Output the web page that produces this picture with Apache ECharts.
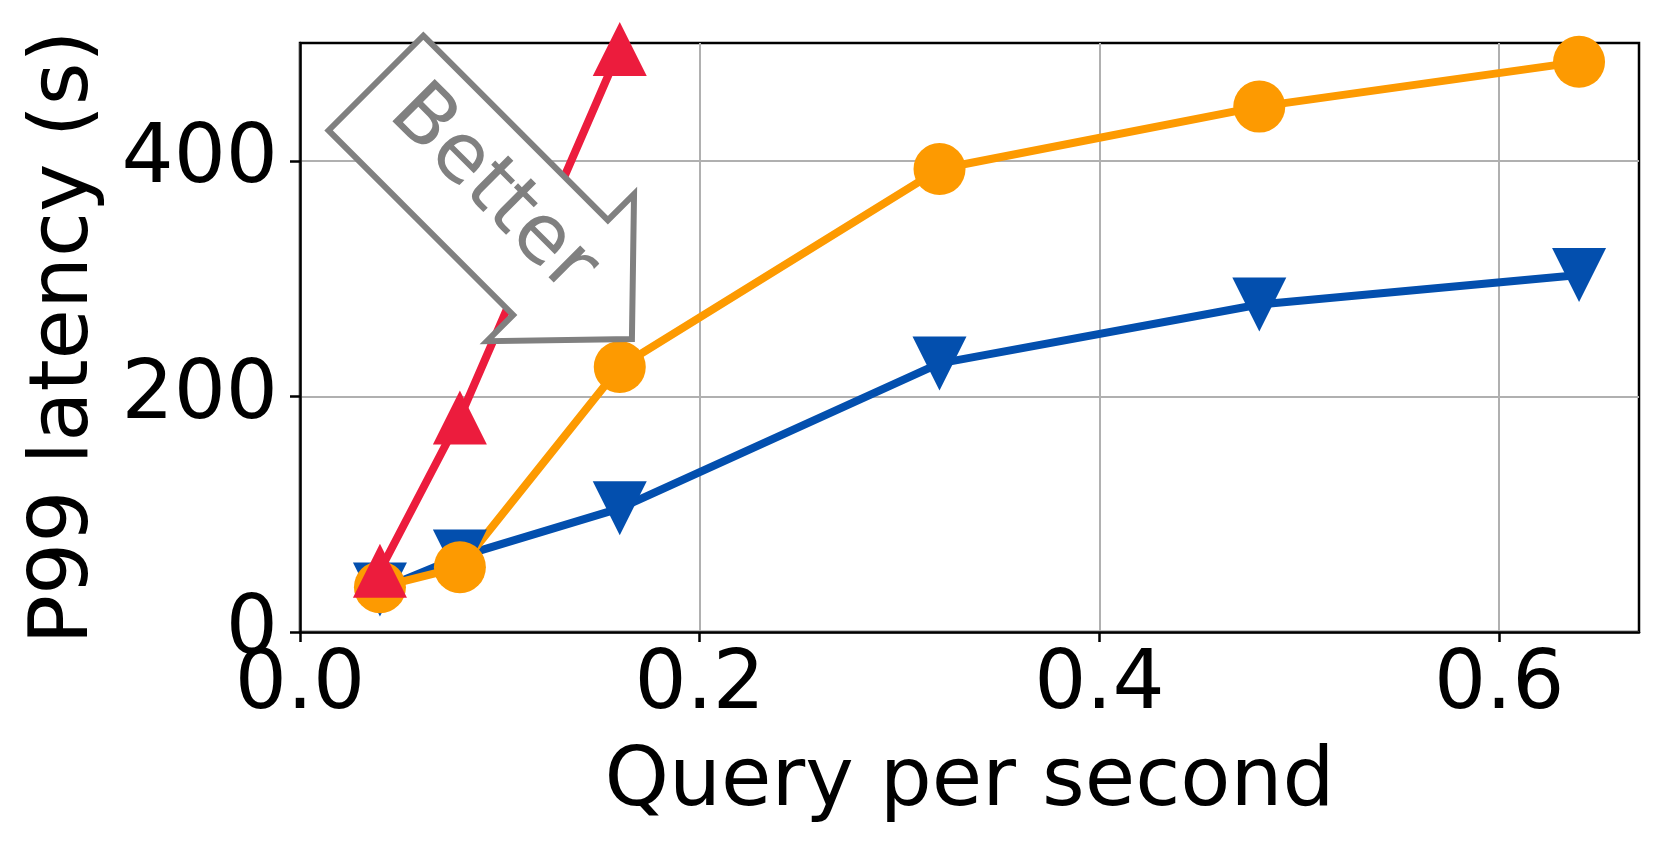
<!DOCTYPE html>
<html>
<head>
<meta charset="utf-8">
<title>P99 latency vs QPS</title>
<script src="https://cdn.jsdelivr.net/npm/echarts@6/dist/echarts.min.js"></script>
<style>
html, body { margin: 0; padding: 0; background: #ffffff; }
#chart { width: 1661px; height: 852px; }
</style>
</head>
<body>
<div id="chart"></div>
<script>
// x values (query per second)
var qps = [0.04, 0.08, 0.16, 0.32, 0.48, 0.64]
var qpsRed = [0.04, 0.08, 0.16]
// p99 latency (s)
var blueLatency = [36, 64, 105, 228, 278, 303]
var orangeLatency = [38, 55, 225, 393, 446, 484]
var redLatency = [52, 182, 495]
var xTicks = [0, 0.2, 0.4, 0.6]
var yTicks = [0, 200, 400]

var FONT = 'DejaVu Sans'
var FS = 82

function pairs (xs, ys) {
  var out = []
  for (var i = 0; i < ys.length; i++) out.push([xs[i], ys[i]])
  return out
}

function lineSeries (data, color, symbol, rotate) {
  return {
    type: 'line',
    data: data,
    symbol: symbol,
    symbolSize: symbol === 'circle' ? 52 : 54,
    symbolRotate: rotate,
    showAllSymbol: true,
    clip: true,
    lineStyle: { color: color, width: 8 },
    itemStyle: { color: color },
    emphasis: { disabled: true },
    animation: false
  }
}

var chart = echarts.init(document.getElementById('chart'))
chart.setOption({
  animation: false,
  grid: {
    left: 300, top: 43, width: 1339, height: 589,
    show: true, borderColor: '#000000', borderWidth: 2.5,
    containLabel: false
  },
  xAxis: {
    type: 'value',
    min: 0, max: 0.67, interval: 0.2,
    name: 'Query per second',
    nameLocation: 'middle',
    nameGap: 111,
    nameTextStyle: { fontFamily: FONT, fontSize: FS, color: '#000' },
    axisLine: { show: true, onZero: false, lineStyle: { color: '#000', width: 2.5 } },
    axisTick: { show: true, length: 10, customValues: xTicks, lineStyle: { color: '#000', width: 2.5 } },
    axisLabel: {
      customValues: xTicks, margin: 14,
      fontFamily: FONT, fontSize: FS, color: '#000',
      formatter: function (v) { return v.toFixed(1) }
    },
    splitLine: { show: true, lineStyle: { color: '#b0b0b0', width: 2 } }
  },
  yAxis: {
    type: 'value',
    min: 0, max: 500, interval: 200,
    name: 'P99 latency (s)',
    nameLocation: 'middle',
    nameRotate: 90,
    nameGap: 193,
    nameTextStyle: { fontFamily: FONT, fontSize: FS, color: '#000' },
    axisLine: { show: true, onZero: false, lineStyle: { color: '#000', width: 2.5 } },
    axisTick: { show: true, length: 10, customValues: yTicks, lineStyle: { color: '#000', width: 2.5 } },
    axisLabel: {
      customValues: yTicks, margin: 22,
      fontFamily: FONT, fontSize: FS, color: '#000'
    },
    splitLine: { show: true, lineStyle: { color: '#b0b0b0', width: 2 } }
  },
  series: [
    lineSeries(pairs(qps, blueLatency), '#034fae', 'triangle', 180),
    lineSeries(pairs(qps, orangeLatency), '#fd9a01', 'circle', 0),
    lineSeries(pairs(qpsRed, redLatency), '#ec1c3d', 'triangle', 0)
  ]
})

// "Better" arrow annotation, anchored at the back end of the arrow
var anchor = chart.convertToPixel({ gridIndex: 0 }, [0.038, 466])
chart.setOption({
  graphic: [{
    type: 'group',
    x: anchor[0],
    y: anchor[1],
    rotation: -Math.PI / 4,
    z: 100,
    zlevel: 1,
    children: [
      {
        type: 'polygon',
        z: 100,
        zlevel: 1,
        shape: { points: [[0, -67], [261, -67], [261, -104], [362, 0], [261, 104], [261, 67], [0, 67]] },
        style: { fill: '#ffffff', stroke: '#808080', lineWidth: 6, lineJoin: 'miter' }
      },
      {
        type: 'text',
        z: 101,
        zlevel: 1,
        x: 158,
        y: -6,
        style: {
          text: 'Better',
          fontFamily: FONT,
          fontSize: FS,
          fill: '#808080',
          align: 'center',
          verticalAlign: 'middle'
        }
      }
    ]
  }]
})
</script>
</body>
</html>
